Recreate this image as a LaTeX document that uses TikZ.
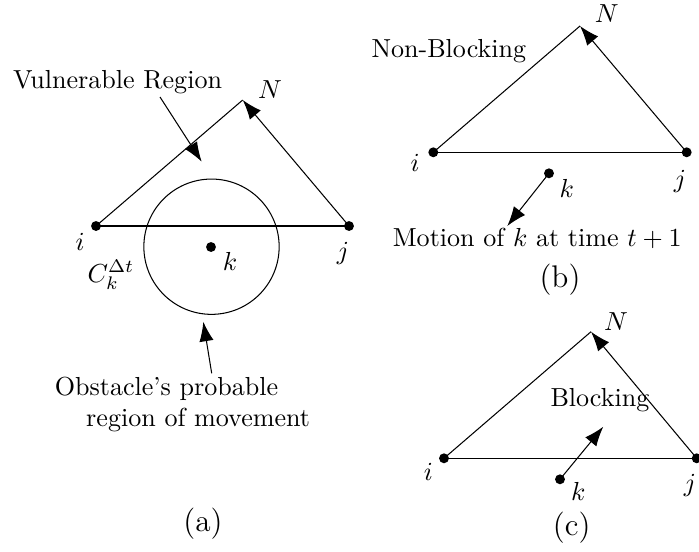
\documentclass[tikz,border=0pt]{standalone}
\usetikzlibrary{arrows.meta}
\begin{document}
\begin{tikzpicture}[x=0.3836pt,y=-0.3836pt,
  dot/.style={circle,fill=black,inner sep=0pt,minimum size=3.8pt},
  arr/.style={-{Latex[length=7.5pt,width=5.5pt]},line width=0.4pt},
  ln/.style={line width=0.4pt},
  lbl/.style={inner sep=0pt},
  subcap/.style={inner sep=0pt,font=\large,anchor=base}]
\useasboundingbox (0,0) rectangle (699,552);
% ---------------- (a)
\node[dot] (ai) at (96,226) {};
\node[dot] (aj) at (349,226) {};
\node[dot] (ak) at (211,247) {};
\coordinate (aN) at (242.7,100);
\coordinate (aC) at (211.5,246.7);
\draw[ln] (aC) circle[radius=25.95pt];
\draw[ln] (ai.center) -- (aj.center);
\draw[ln] (ai.center) -- (aN);
\draw[arr] (aj.center) -- (aN);
\node[lbl] (ail) at (80,241.7) {$i$};
\node[lbl] (ajl) at (343,253) {$j$};
\node[lbl] (akl) at (230,261.7) {$k$};
\node[lbl] (aNl) at (270,90) {$N$};
\node[lbl] (aCl) at (111,275) {$C_k^{\Delta t}$};
\node[lbl,anchor=base west] (vr) at (12.5,88.3) {Vulnerable Region};
\coordinate (vrs) at (160,97);
\coordinate (vre) at (201.7,161.7);
\draw[arr] (vrs) -- (vre);
\node[lbl,anchor=base west] (ob1) at (54.3,395.7) {Obstacle's probable};
\node[lbl,anchor=base west] (ob2) at (85.7,426.7) {region of movement};
\coordinate (obs) at (211.7,373.3);
\coordinate (obe) at (203.3,321.7);
\draw[arr] (obs) -- (obe);
\node[subcap] (capa) at (203,531.5) {(a)};
% ---------------- (b)
\node[dot] (bi) at (433.3,152.3) {};
\node[dot] (bj) at (686.7,152.3) {};
\node[dot] (bk) at (549,173.3) {};
\coordinate (bN) at (580,26);
\draw[ln] (bi.center) -- (bj.center);
\draw[ln] (bi.center) -- (bN);
\draw[arr] (bj.center) -- (bN);
\node[lbl] (bil) at (415,163.3) {$i$};
\node[lbl] (bjl) at (680,181.7) {$j$};
\node[lbl] (bkl) at (566.7,188.3) {$k$};
\node[lbl] (bNl) at (606.7,13.3) {$N$};
\node[lbl,anchor=base west] (nb) at (371,57.3) {Non-Blocking};
\coordinate (bme) at (507.3,226);
\draw[arr] (bk.center) -- (bme);
\node[lbl,anchor=base west] (mot) at (392.3,246) {Motion of $k$ at time $t+1$};
\node[subcap] (capb) at (560,287) {(b)};
% ---------------- (c)
\node[dot] (ci) at (444,458.3) {};
\node[dot] (cj) at (696.7,458.3) {};
\node[dot] (ck) at (560,479.3) {};
\coordinate (cN) at (591,331.7);
\draw[ln] (ci.center) -- (cj.center);
\draw[ln] (ci.center) -- (cN);
\draw[arr] (cj.center) -- (cN);
\node[lbl] (cil) at (428.3,471.7) {$i$};
\node[lbl] (cjl) at (690,485) {$j$};
\node[lbl] (ckl) at (578.3,491.7) {$k$};
\node[lbl] (cNl) at (616,321.7) {$N$};
\node[lbl,anchor=base west] (bl) at (550,406) {Blocking};
\coordinate (cme) at (603.3,426.7);
\draw[arr] (ck.center) -- (cme);
\node[subcap] (capc) at (571.7,535) {(c)};
\end{tikzpicture}
\end{document}
